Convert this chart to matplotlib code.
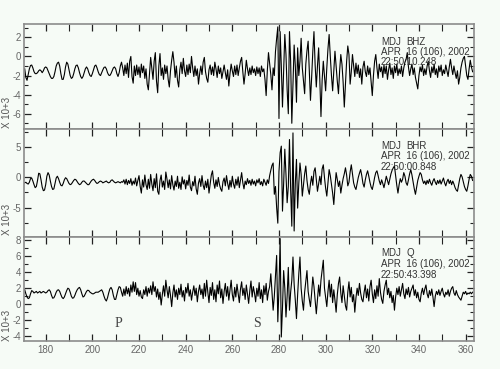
import matplotlib
matplotlib.use('Agg')
import matplotlib.pyplot as plt
from matplotlib.ticker import MultipleLocator
import numpy as np

# Seismograms MDJ, 16 Apr 2002, sampled every 0.5 s from t = 171 s
t0 = 171.0
dt = 0.5

bhz = [
    -1.3, -2.2, -2.5, -1.9, -1.3, -0.95, -0.9, -1.2, -1.6, -1.8, -1.8, -1.7, -1.5, -1.4, -1.5, -1.7, -1.5, -1.2, -1.1, -1.2,
    -1.5, -1.8, -2.1, -2.3, -2.3, -2.1, -1.6, -1.0, -0.7, -0.6, -1.0, -1.8, -2.4, -2.4, -1.9, -1.1, -0.6, -0.8, -1.4, -2.0,
    -2.3, -2.2, -1.8, -1.3, -0.95, -0.9, -1.2, -1.7, -2.1, -2.3, -2.1, -1.7, -1.3, -1.1, -1.3, -1.7, -2.0, -2.1, -1.8, -1.4,
    -1.0, -0.9, -1.2, -1.6, -1.9, -2.0, -1.7, -1.4, -1.15, -1.1, -1.3, -1.7, -1.95, -2.0, -1.8, -1.5, -1.2, -1.1, -1.3, -1.8,
    -2.1, -1.7, -1.0, -0.6, -1.2, -2.0, -0.9, -1.8, -0.7, -2.2, -0.5, 0.0, -2.1, -2.8, -1.0, -2.0, -0.9, -1.9, -1.1, -2.2,
    -0.8, -1.7, -1.0, -2.3, -1.3, -2.9, -3.5, -1.8, -0.1, -1.2, -2.4, -0.5, 0.4, -2.6, -3.8, -1.0, 0.3, -2.0, -1.2, -2.4,
    -0.9, -1.8, -1.0, -2.4, -3.2, -1.5, -0.4, 0.5, -0.6, -2.2, -1.0, -2.5, -3.2, -1.4, -0.6, -1.8, -0.2, -1.5, -2.1, -0.9,
    -1.9, -0.8, -1.7, 0.0, -1.2, -2.1, -1.0, -2.0, -1.3, -2.9, -1.8, -1.0, -1.9, -0.6, -0.1, -1.6, -2.3, -2.7, -1.4, -0.9,
    -1.9, -1.1, -2.0, -0.6, -1.3, -2.2, -1.0, -1.8, -1.2, -2.3, -1.6, -0.9, -1.7, -2.4, -1.4, -3.1, -1.8, -0.8, -1.5, -2.1,
    -1.0, -1.9, -0.9, -2.0, -1.2, -0.5, -0.1, -1.6, -2.9, -1.8, -0.4, -1.3, -2.0, -1.2, -1.9, -1.0, -1.7, -1.3, -2.0, -1.1,
    -1.8, -1.2, -2.1, -1.0, -1.6, -1.3, -2.4, -4.1, -1.5, 0.4, -0.8, -1.9, -3.5, -1.2, -2.0, 0.5, 1.9, 3.1, -6.5, 2.6,
    -1.0, -5.3, -1.5, 2.3, 0.2, -3.5, -6.0, 2.6, -0.5, -7.0, -3.0, 1.2, -1.0, -4.8, 0.9, -2.0, -0.5, 1.9, -1.2, -2.5,
    -3.9, -0.8, 0.6, 1.6, -1.4, -4.6, -2.2, 0.5, 2.6, -0.9, -3.2, -1.0, 0.9, -2.4, -6.3, -2.5, -0.5, -2.0, -3.6, -1.2,
    0.8, 2.3, 0.0, -2.0, -3.6, -1.5, 0.55, -1.0, -2.6, -3.9, -1.5, 0.2, -0.8, -2.7, -5.3, -3.0, -0.5, 1.1, 0.2, -2.9,
    -1.6, 0.2, -1.0, -2.1, -0.7, -1.8, -0.9, -2.2, -1.3, -2.9, -1.1, -0.5, -1.6, -2.1, -1.0, -1.9, -1.2, -2.7, -4.1, -2.0,
    -0.5, 0.2, -1.2, -2.3, -0.8, -1.6, -1.1, -2.2, -0.9, -1.8, -1.0, -2.4, -1.4, -0.7, -1.9, -1.2, -2.3, -1.0, -1.7, -0.8,
    -2.0, -1.3, -1.8, -1.0, -2.1, -1.2, -0.6, -0.3, 0.4, -1.1, -2.0, -1.3, -0.8, -1.9, -1.2, -2.2, -2.8, -3.4, -2.0, -1.1,
    -1.6, -0.9, -2.0, -1.3, -1.9, -1.0, -0.5, -1.5, -2.2, -1.1, -1.7, -0.8, -1.9, -1.3, -2.2, -1.0, -1.6, -0.9, -2.0, -1.4,
    -1.8, -0.9, -1.5, -2.1, -1.1, -0.3, -1.2, -1.9, -1.0, -1.7, -2.3, -1.5, -2.9, -2.2, -1.2, -0.6, -0.2, 0.0, -1.0, -2.0,
    -2.4, -1.3, -0.4, -1.1, -1.6,
]

bhr = [
    -0.9, -0.8, -1.0, -1.1, -0.8, -0.2, -0.1, -0.6, -1.2, -1.7, -1.5, -0.5, 0.7, 0.6, -0.4, -1.6, -2.2, -2.1, -1.2, 0.2,
    0.8, 0.4, -0.6, -1.5, -2.0, -1.9, -1.0, -0.1, 0.2, -0.2, -0.8, -1.3, -1.4, -1.0, -0.4, -0.05, -0.2, -0.6, -1.0, -1.2,
    -1.1, -0.8, -0.5, -0.3, -0.4, -0.7, -1.0, -1.2, -1.1, -0.8, -0.6, -0.6, -0.8, -1.0, -1.2, -1.2, -0.9, -0.6, -0.4, -0.3,
    -0.5, -0.8, -1.0, -0.9, -0.7, -0.6, -0.7, -0.9, -0.8, -0.7, -0.6, -0.8, -0.9, -0.8, -0.5, -0.4, -0.6, -0.8, -0.9, -0.8,
    -0.7, -0.8, -0.9, -0.7, -0.8, -0.4, -1.1, -0.3, -1.2, -0.5, -1.0, -0.2, -1.3, -0.6, -1.1, -0.1, -1.4, -0.5, 0.3, -1.5,
    -2.6, -0.4, -1.6, 0.4, -1.2, -2.0, -0.3, -1.8, 0.5, -1.1, -2.2, -0.2, -1.7, 0.6, -2.3, -2.8, -0.5, 0.4, -1.6, -0.6,
    -2.0, 0.9, -0.3, -1.7, -0.4, -1.9, 0.3, -1.2, -2.1, -0.6, -1.5, 0.2, -1.8, -0.8, -2.0, 0.1, -1.1, -0.4, -1.9, -0.5,
    -1.3, 0.4, -1.6, -2.2, -0.7, -1.4, 0.2, -1.9, -2.8, -0.9, -0.2, -1.5, 0.3, -1.3, -2.0, -0.6, -1.7, -0.3, -2.6, -1.1,
    0.4, 1.1, -0.8, -1.8, -0.4, -1.5, 0.0, -1.2, -1.9, -2.3, -0.7, -0.1, -1.4, 0.3, -1.0, -2.0, -0.5, -1.6, 0.2, -1.1,
    -1.8, -0.3, -1.3, 0.1, -1.7, -0.4, 0.8, -0.9, -1.9, -0.6, -1.2, -0.2, -1.0, -0.5, -1.3, -0.3, -1.1, -0.6, -1.4, -0.4,
    -0.9, -0.2, -1.2, -0.7, -1.4, -0.3, -0.8, -1.3, -0.4, -1.0, 0.3, 1.2, 2.0, 2.4, -2.8, -1.5, -5.0, -7.6, 1.0, 4.1,
    5.2, -5.6, -1.0, 4.7, 0.5, -4.2, -1.5, 6.3, -2.0, -8.1, 7.4, -8.9, -1.0, 3.0, -5.1, -1.0, 2.4, 0.5, -3.1, -1.2,
    0.6, 1.9, -0.5, -2.0, -2.8, -1.0, 0.2, -1.3, 1.0, 1.6, -0.4, -2.3, -1.0, 0.2, -1.2, 1.4, 2.1, 0.0, -1.8, -3.1,
    -1.0, 1.3, 0.3, -1.2, -2.6, -4.5, -1.6, 0.8, -0.3, -1.5, -0.6, -2.6, -1.3, -0.2, 0.6, 1.6, 0.4, -1.4, -0.8, 0.9,
    2.1, 0.6, -0.9, -1.6, -2.0, -1.0, 0.0, 0.7, 1.3, 0.3, -1.0, -1.6, -0.4, 0.5, 1.1, 0.2, -0.8, -1.6, -2.0, -1.1,
    0.0, 0.8, 1.1, 0.3, -0.6, -1.2, -0.4, -1.0, -1.7, -0.8, 0.2, -0.5, -1.2, -0.3, 0.6, 1.2, 1.6, 1.9, 0.3, -1.3,
    -2.6, -1.2, -0.2, -0.8, -0.3, 0.8, 0.2, -0.9, -1.3, -0.4, 0.6, 1.3, 0.4, -0.8, -1.9, -2.8, -1.6, -0.5, 0.2, 0.8,
    0.5, -0.4, -1.0, -0.6, -1.2, -0.5, -1.0, -0.3, -0.9, -1.3, -0.6, -0.2, -0.8, -1.2, -0.5, -1.0, -0.4, -1.1, -0.6, -0.1,
    -0.9, -1.4, -0.7, -0.3, -1.0, -0.5, -1.2, -0.6, -1.1, -1.7, -2.1, -2.3, -1.2, -0.2, 0.5, 0.1, -0.7, -1.5, -2.0, -2.3,
    -1.4, -0.3, 0.5, 0.2, -0.5,
]

q = [
    1.8, 1.3, 0.9, 0.7, 0.8, 1.3, 1.7, 1.6, 1.4, 1.5, 1.6, 1.4, 1.5, 1.6, 1.4, 1.5, 1.6, 1.5, 1.4, 1.5,
    1.7, 1.8, 1.6, 1.1, 0.75, 0.8, 1.1, 1.5, 1.75, 1.8, 1.6, 1.2, 0.85, 0.7, 0.9, 1.3, 1.7, 2.0, 1.9, 1.5,
    1.0, 0.75, 0.8, 1.1, 1.5, 1.8, 2.0, 2.1, 1.8, 1.3, 0.9, 1.0, 1.3, 1.6, 1.75, 1.7, 1.5, 1.4, 1.3, 1.3,
    1.4, 1.5, 1.5, 1.5, 1.6, 1.7, 1.8, 1.5, 1.0, 0.6, 0.4, 0.8, 1.4, 1.9, 2.1, 1.8, 1.1, 0.6, 0.6, 1.2,
    1.8, 2.2, 2.1, 1.5, 1.0, 1.9, 1.1, 2.2, 1.3, 2.0, 1.0, 2.4, 1.5, 2.8, 1.6, 2.7, 1.2, 2.0, 1.0, 1.7,
    0.9, 0.7, 1.8, 1.2, 2.2, 1.0, 2.0, 1.4, 2.3, 1.2, 2.8, 1.6, 2.2, 0.9, 1.9, 0.6, 1.5, -0.1, 1.2, 2.3,
    1.0, 3.0, 1.8, 0.8, 2.2, 1.1, -0.3, 1.4, 2.4, 0.9, 1.8, 0.6, 2.0, 1.2, 2.5, 0.9, 1.7, 0.4, 2.1, 1.4,
    2.6, 1.0, 1.8, 0.5, 1.5, 2.3, 1.1, 2.0, 0.3, 1.6, 2.4, 1.2, 1.9, 0.7, 2.6, 1.0, 3.0, 1.5, 0.2, 2.1,
    1.1, 2.7, 0.6, 1.8, 0.3, 2.4, 1.3, 2.9, 0.8, 1.9, 0.1, 1.6, 2.6, 1.0, 2.2, 0.5, 1.8, 3.0, 1.2, 0.4,
    2.1, 0.9, 2.5, 1.4, 0.2, 1.9, 2.8, 1.1, 2.0, 0.6, 2.4, 1.3, 0.1, 1.7, 2.9, 0.9, 2.2, 1.4, 0.3, 2.0,
    1.0, 2.7, 0.7, 1.8, 0.2, 2.3, 1.2, 2.6, 0.5, 1.6, 2.2, 3.8, 1.5, -0.75, 1.0, 3.5, 6.1, -2.2, 2.0, 8.2,
    -4.1, -0.5, 4.2, 2.0, -1.6, 1.0, 4.6, -0.75, 1.5, 3.0, 5.9, 2.5, 0.5, -1.8, 1.2, 3.8, 5.9, 2.0, 0.4, -0.75,
    1.5, 2.8, 4.2, 1.6, 0.6, -0.3, 1.4, 3.4, 2.2, 0.5, -1.2, 0.6, 2.4, 1.0, 3.0, 4.2, 5.5, 2.0, 0.8, -0.3,
    1.6, 3.0, 0.9, 2.5, 0.2, 1.8, 0.5, -1.0, 1.2, 2.6, 3.4, 1.4, 0.2, 2.3, 1.0, -0.2, -0.75, 1.5, 2.8, 0.9,
    2.1, 0.3, 1.2, -1.0, 0.8, 2.0, 1.1, 2.6, 1.4, 0.6, 0.3, 1.5, 2.4, 0.8, 1.9, 0.4, 2.2, 3.0, 1.3, 0.2,
    1.8, 0.7, 2.3, 1.0, 3.2, 1.5, 0.6, 0.1, 1.6, 2.4, 3.0, 1.2, 2.0, 0.8, 1.6, 0.2, 1.1, -0.75, 0.9, 2.0,
    1.2, 2.2, 1.0, 1.8, 2.6, 1.3, 0.7, 1.9, 1.2, 2.1, 0.9, 1.6, 2.0, 2.4, 1.1, 1.8, 0.8, 1.5, 0.6, 0.3,
    1.4, 2.0, 1.2, 1.9, 2.4, 1.3, 0.8, 1.7, 1.1, 1.9, 0.9, -0.3, 1.0, 1.6, 1.2, 1.8, 1.1, 1.6, 2.0, 1.3,
    0.9, 1.5, 1.2, 1.8, 1.0, 1.6, 2.0, 2.2, 1.4, 1.1, 1.7, 1.2, 0.9, 0.7, 0.5, 1.0, 1.5, 1.3, 1.6, 1.2,
    1.4, 1.3, 1.5, 1.3, 1.5,
]

traces = [bhz, bhr, q]
channels = ['BHZ', 'BHR', 'Q']
start_times = ['22:50:10.248', '22:50:00.848', '22:50:43.398']
date_label = 'APR  16 (106), 2002'
ylims = [(-7.6, 3.4), (-9.9, 8.05), (-4.6, 8.4)]
ymajor = [2, 5, 2]
yminor = [1, 2.5, 1]
phases = [('P', 211.0), ('S', 270.6)]

plt.rcParams['font.family'] = ['Liberation Sans Narrow', 'Liberation Sans', 'DejaVu Sans']
plt.rcParams['axes.unicode_minus'] = False

bg = '#f6fbf6'
fig = plt.figure(figsize=(5, 3.69), dpi=100, facecolor=bg)

# panel positions (left, bottom, width, height) in figure fraction
boxes = [(0.048, 0.6504, 0.9, 0.2846),
         (0.048, 0.3577, 0.9, 0.2927),
         (0.048, 0.0759, 0.9, 0.2818)]
label_y = [0.6965, 0.4065, 0.1192]
text_y = [(0.833, 0.733, 0.638), (0.847, 0.75, 0.648), (0.846, 0.743, 0.635)]

for i, (vals, box) in enumerate(zip(traces, boxes)):
    ax = fig.add_axes(box, facecolor=bg)
    t = t0 + dt * np.arange(len(vals))
    ax.plot(t, vals, color='black', lw=0.8)
    ax.set_xlim(170.7, 363.6)
    ax.set_ylim(*ylims[i])
    ax.xaxis.set_major_locator(MultipleLocator(20))
    ax.xaxis.set_minor_locator(MultipleLocator(10))
    ax.yaxis.set_major_locator(MultipleLocator(ymajor[i]))
    ax.yaxis.set_minor_locator(MultipleLocator(yminor[i]))
    ax.tick_params(which='both', direction='in', top=True, right=True,
                   labelsize=7, labelcolor='#666666', color='#222222', pad=2)
    ax.tick_params(which='major', length=5, width=0.9)
    ax.tick_params(which='minor', length=3, width=0.8)
    ax.tick_params(axis='x', which='both', length=5)
    if i < 2:
        ax.tick_params(axis='x', labelbottom=False)
    else:
        ax.tick_params(axis='x', pad=3)
    for sp in ax.spines.values():
        sp.set_color('#8c8c8c')
        sp.set_linewidth(1.2)

    tx = 0.793
    y1, y2, y3 = text_y[i]
    ax.text(tx, y1, 'MDJ', transform=ax.transAxes, fontsize=7, color='#333333', va='center')
    ax.text(0.849, y1, channels[i], transform=ax.transAxes, fontsize=7, color='#333333', va='center')
    ax.text(tx, y2, date_label, transform=ax.transAxes, fontsize=7, color='#333333', va='center')
    ax.text(tx, y3, start_times[i], transform=ax.transAxes, fontsize=7, color='#333333', va='center')

    fig.text(0.014, label_y[i], 'X 10+3', rotation=90, fontsize=7, color='#555555',
             ha='center', va='center')

    if i == 2:
        for name, tp in phases:
            ax.text(tp, -2.4, name, fontsize=10, family='Liberation Serif',
                    color='#444444', ha='center', va='center')

fig.savefig('out.png', dpi=100, facecolor=bg)
